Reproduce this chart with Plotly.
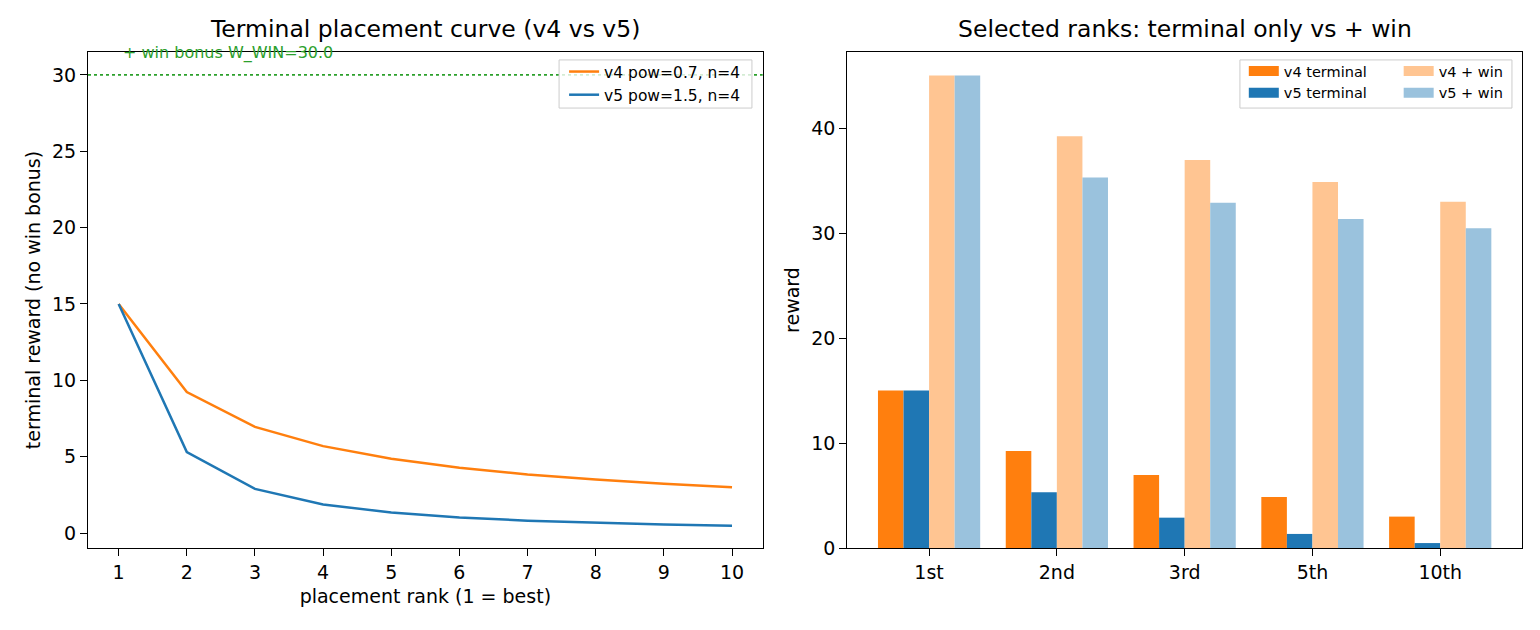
import plotly.graph_objects as go
from plotly.subplots import make_subplots

# ---- data ----
ranks = [1, 2, 3, 4, 5, 6, 7, 8, 9, 10]
v4_curve = [15.0, 9.23, 6.95, 5.69, 4.86, 4.28, 3.84, 3.50, 3.22, 2.99]
v5_curve = [15.0, 5.30, 2.89, 1.875, 1.34, 1.02, 0.81, 0.66, 0.556, 0.474]
w_win = 30.0

sel_labels = ["1st", "2nd", "3rd", "5th", "10th"]
v4_term = [15.0, 9.23, 6.95, 4.86, 2.99]
v5_term = [15.0, 5.30, 2.89, 1.34, 0.47]
v4_win = [45.0, 39.23, 36.95, 34.86, 32.99]
v5_win = [45.0, 35.30, 32.89, 31.34, 30.47]

ORANGE = "#ff7f0e"
BLUE = "#1f77b4"
L_ORANGE = "#ffc592"
L_BLUE = "#9ac2dd"
GREEN = "#2ca02c"
FONT = "DejaVu Sans"
TICK = 19
TITLE = 23.5

fig = make_subplots(rows=1, cols=2, horizontal_spacing=0.059,
                    subplot_titles=["Terminal placement curve (v4 vs v5)",
                                    "Selected ranks: terminal only vs + win"])

fig.add_trace(go.Scatter(x=ranks, y=v4_curve, mode="lines", name="v4 pow=0.7, n=4",
                         line=dict(color=ORANGE, width=2.5), legend="legend"), row=1, col=1)
fig.add_trace(go.Scatter(x=ranks, y=v5_curve, mode="lines", name="v5 pow=1.5, n=4",
                         line=dict(color=BLUE, width=2.5), legend="legend"), row=1, col=1)

xs = list(range(len(sel_labels)))
bar_series = [
    ("v4 terminal", v4_term, ORANGE, "legend2"),
    ("v5 terminal", v5_term, BLUE, "legend2"),
    ("v4 + win", v4_win, L_ORANGE, "legend3"),
    ("v5 + win", v5_win, L_BLUE, "legend3"),
]
for name, vals, col, leg in bar_series:
    fig.add_trace(go.Bar(x=xs, y=vals, name=name, marker=dict(color=col, line=dict(width=0)),
                         showlegend=False), row=1, col=2)
for name, vals, col, leg in bar_series:
    # legend-only swatch (wide rectangle like the reference)
    fig.add_trace(go.Scatter(x=[None], y=[None], mode="lines", name=name,
                             line=dict(color=col, width=10), legend=leg), row=1, col=2)

# win bonus line + label
fig.add_shape(type="line", xref="x domain", yref="y", x0=0, x1=1, y0=w_win, y1=w_win,
              line=dict(color=GREEN, width=1.8, dash="dot"), layer="below")
fig.add_annotation(x=1.04, y=31.45, xref="x", yref="y", text="+ win bonus W_WIN=30.0",
                   showarrow=False, xanchor="left", yanchor="middle",
                   font=dict(color=GREEN, size=16, family=FONT))

axis_common = dict(showline=True, linecolor="black", linewidth=1.2, mirror=True,
                   ticks="outside", ticklen=7, tickcolor="black", showgrid=False, zeroline=False,
                   tickfont=dict(size=TICK, family=FONT, color="black"))

fig.update_xaxes(axis_common, row=1, col=1, range=[0.55, 10.45], tickvals=ranks,
                 title=dict(text="placement rank (1 = best)", font=dict(size=TICK, family=FONT), standoff=7))
fig.update_yaxes(axis_common, row=1, col=1, range=[-0.98, 31.5], tickvals=[0, 5, 10, 15, 20, 25, 30],
                 title=dict(text="terminal reward (no win bonus)", font=dict(size=TICK, family=FONT), standoff=6))
fig.update_xaxes(axis_common, row=1, col=2, range=[-0.64, 4.64], tickvals=xs, ticktext=sel_labels)
fig.update_yaxes(axis_common, row=1, col=2, range=[0, 47.25], tickvals=[0, 10, 20, 30, 40],
                 title=dict(text="reward", font=dict(size=TICK, family=FONT), standoff=6))

for a in fig.layout.annotations[:2]:
    a.font = dict(size=TITLE, family=FONT, color="black")
    a.yshift = 7

# legend frames
fig.add_shape(type="rect", xref="paper", yref="paper", x0=0.3285, x1=0.463, y0=0.887, y1=0.984,
              line=dict(color="#cccccc", width=1), fillcolor="rgba(255,255,255,0.8)", layer="below")
fig.add_shape(type="rect", xref="paper", yref="paper", x0=0.8033, x1=0.993, y0=0.887, y1=0.984,
              line=dict(color="#cccccc", width=1), fillcolor="rgba(255,255,255,0.8)", layer="below")

fig.update_layout(
    width=1532, height=622,
    margin=dict(l=80, r=18, t=44, b=82),
    paper_bgcolor="white", plot_bgcolor="white",
    barmode="group", bargap=0.2, bargroupgap=0,
    font=dict(family=FONT, color="black"),
    legend=dict(x=0.332, y=0.994, xanchor="left", yanchor="top", bgcolor="rgba(0,0,0,0)",
                font=dict(size=15.5, family=FONT, color="black"), tracegroupgap=0, itemwidth=30),
    legend2=dict(x=0.806, y=0.994, xanchor="left", yanchor="top", bgcolor="rgba(0,0,0,0)",
                 font=dict(size=14.5, family=FONT, color="black"), itemwidth=30),
    legend3=dict(x=0.914, y=0.994, xanchor="left", yanchor="top", bgcolor="rgba(0,0,0,0)",
                 font=dict(size=14.5, family=FONT, color="black"), itemwidth=30),
)

fig.write_html("out.html")
